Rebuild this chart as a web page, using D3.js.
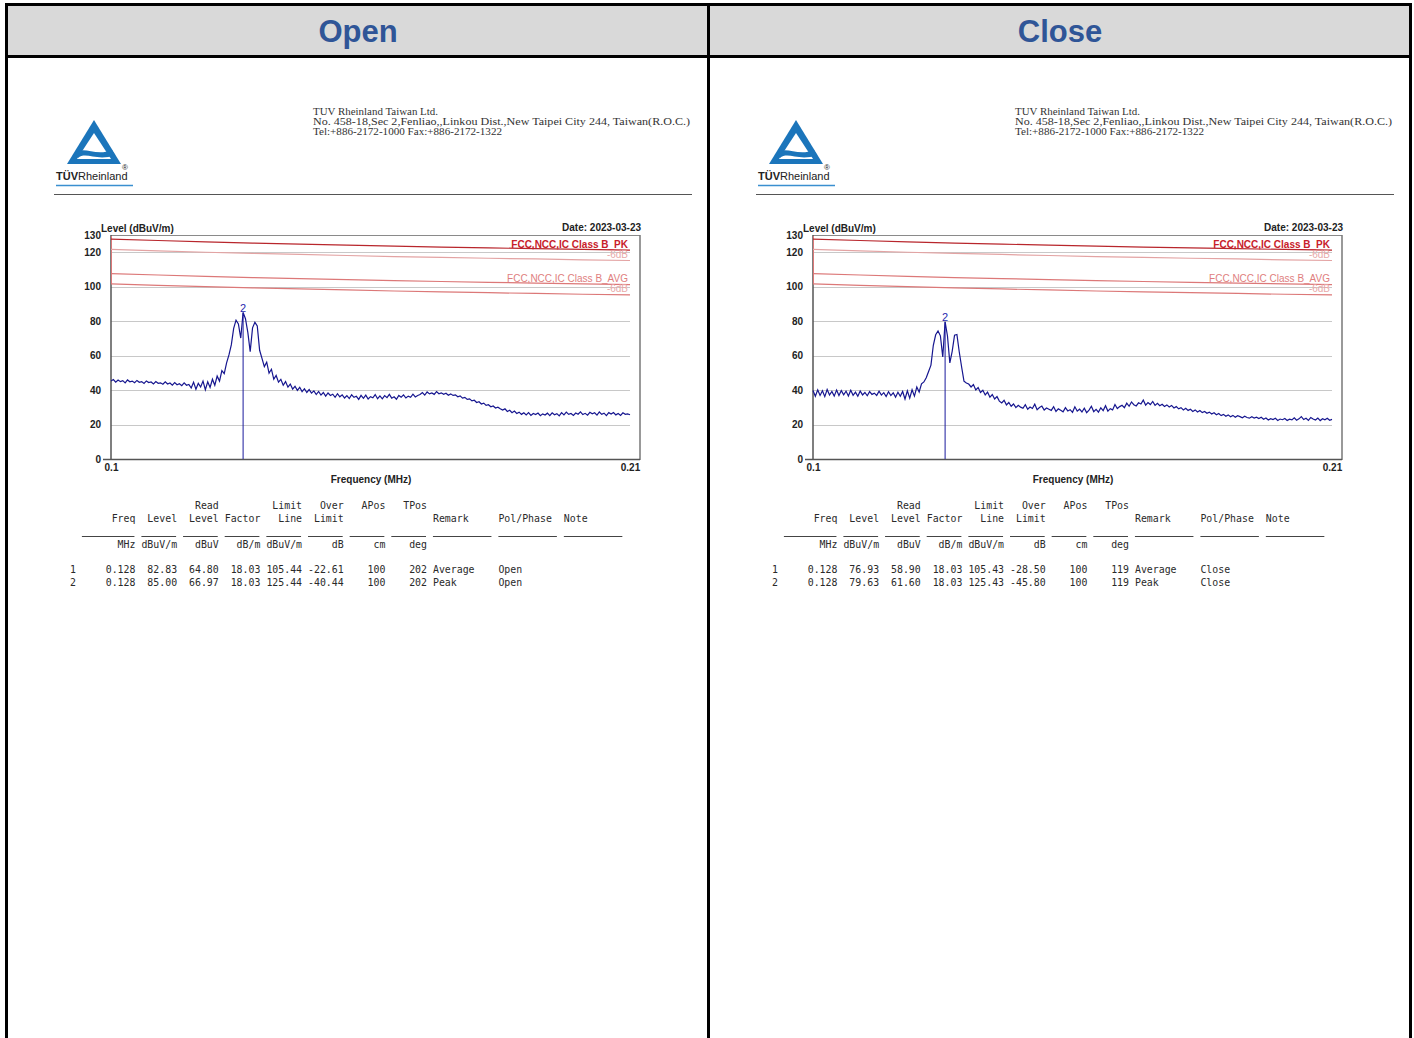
<!DOCTYPE html>
<html>
<head>
<meta charset="utf-8">
<script src="https://cdn.jsdelivr.net/npm/d3@7"></script>
<style>
body { margin: 0; background: #fff; }
svg { display: block; }
</style>
</head>
<body>
<script>
var width = 1414,
    height = 1038;

// sweep of the receiver (MHz)
var sweepStart = 0.1, sweepStop = 0.21;

var openLevel = [
  45.3, 46.1, 44.6, 45.8, 44.9, 45.5, 44.2, 45.9, 44.8, 45.2, 44.3, 45.6, 44.5, 44.9, 43.8, 45.3, 44.4, 44.7, 43.6, 44.9,
  43.9, 44.2, 43.4, 44.8, 43.5, 44.1, 42.9, 44.3, 43.1, 43.7, 42.6, 44.2, 42.8, 43.3,
  41.2, 44.6, 40.5, 43.9, 41.8, 45.2, 40.2, 44.8, 41.5,
  46.3, 42.8, 48.1, 45.2, 51.3,
  49.6, 55.8, 60.4, 66.2,
  75.8, 80.6, 78.4, 70.2, 85.0, 81.4, 73.5, 62.3, 76.1, 79.3, 77.2, 63.1,
  58.4, 53.6, 56.2,
  49.8, 52.1, 46.3, 48.5, 44.6, 46.2, 42.8, 44.9, 41.7,
  43.5, 40.6, 42.2, 39.8, 41.6, 39.1, 40.8, 38.6, 40.3, 38.2, 39.5, 37.4, 39.2, 37.1, 38.6, 36.5, 38.3, 36.9, 37.6, 35.8,
  37.9, 36.1, 37.2, 35.4, 36.8,
  35.1, 37.3, 35.8, 36.4, 34.6, 36.9, 35.2, 37.1, 34.8, 36.2, 35.5, 37.4, 35.0, 36.6, 34.9, 36.8, 35.6, 37.5, 35.3, 36.1,
  34.7, 36.9, 35.9, 37.2, 35.4, 36.5, 35.8, 37.6, 36.0, 36.9,
  37.4, 38.6, 37.1, 38.9, 37.8, 38.3, 37.5, 39.1, 37.9, 38.4, 37.6, 38.2, 37.0, 37.8, 36.9,
  37.2, 36.1, 36.6, 35.3, 35.8, 34.6, 34.9, 33.7, 34.1, 32.8, 33.2, 31.9, 32.4, 31.1, 31.5, 30.3, 30.8, 29.6, 30.1, 29.2,
  28.4, 29.1, 27.6, 28.3, 26.9, 27.8, 26.4, 27.2, 25.9, 26.8, 25.6, 26.9, 25.3, 26.4, 25.8, 26.7, 25.1, 26.2, 25.5, 26.6,
  25.2, 26.8, 25.7, 26.3, 25.0, 26.9, 25.6, 27.2, 25.9, 26.4, 25.3, 26.7, 26.0, 27.4, 25.8, 26.5, 25.4, 27.1, 26.2, 26.8,
  25.5, 27.3, 25.9, 26.6, 25.2, 26.9, 26.1, 27.0, 25.6, 26.4, 25.3, 26.8, 25.9, 26.2, 25.7
];
var closeLevel = [
  39.8, 36.4, 40.1, 36.9, 39.6, 36.2, 40.3, 37.1, 39.2, 36.5, 40.0, 36.8, 39.7, 37.3, 39.4, 36.6, 39.9, 37.0, 38.8, 36.4,
  39.5, 37.2, 38.6, 36.7, 39.1, 37.5, 38.2, 36.9, 39.3, 37.1, 38.5, 36.3, 39.0, 36.8, 38.4, 35.9, 38.7, 36.4,
  39.2, 34.8, 39.6, 35.3,
  40.2, 36.5, 41.8, 38.9, 43.6, 44.7, 47.2, 50.8, 54.5, 66.0, 72.1, 74.3, 71.5, 59.2, 79.6, 71.4, 55.8, 62.5, 71.9, 72.3,
  62.1, 53.4, 45.2, 44.1, 43.5,
  41.8, 43.2, 40.1, 41.5, 38.6, 39.9, 37.2, 38.8, 35.9, 37.4, 34.8, 36.2, 33.6,
  32.5, 34.1, 31.4, 32.8, 30.6, 31.9, 29.8, 31.2, 30.1, 29.4, 31.5, 28.9, 30.2, 29.3, 31.8, 28.6, 29.9, 30.7, 28.4, 29.6, 28.9,
  28.2, 30.4, 27.6, 29.1, 28.3, 27.4, 29.8, 27.9, 28.6, 27.1, 30.3, 27.8, 28.9, 27.3, 29.5, 26.9, 28.4, 30.6, 27.5, 28.8,
  27.2, 29.7, 28.1, 30.9, 27.8, 29.2, 28.5, 31.6, 29.3, 30.4,
  31.2, 29.8, 32.4, 30.6, 33.1, 31.5, 30.8, 32.6, 31.9, 34.2, 31.3, 32.8, 31.6, 33.4, 31.1, 32.3, 30.9, 31.8, 30.5, 31.4,
  30.2, 31.1, 29.6, 30.4, 29.1, 29.8, 28.5, 29.4, 28.2, 28.9, 27.6, 28.5, 27.3, 28.1, 26.9, 27.6, 26.5, 27.2, 26.1, 26.8,
  25.7, 26.4, 25.2, 25.9, 24.8, 25.6, 24.5, 25.3, 24.2, 25.1, 24.6, 23.9, 24.8, 24.1, 23.7, 24.5, 23.8, 24.3, 23.5, 24.2,
  23.1, 23.8, 22.6, 23.4, 22.9, 23.6, 22.4, 23.2, 22.8, 23.5, 22.3, 23.1, 22.7, 23.9, 22.5, 23.3, 24.6, 22.9, 23.6, 22.4,
  24.1, 23.2, 22.6, 23.8, 22.3, 23.4, 22.8, 23.6, 22.5, 23.0
];

// limit lines
var limitFreq = [0.10, 0.11, 0.12, 0.13, 0.14, 0.15, 0.16, 0.17, 0.18, 0.19, 0.20, 0.21];
var limitPK   = [127.6, 126.8, 126.0, 125.3, 124.7, 124.1, 123.5, 123.0, 122.5, 122.1, 121.6, 121.2];
var limitAVG  = [107.6, 106.8, 106.0, 105.3, 104.7, 104.1, 103.5, 103.0, 102.5, 102.1, 101.6, 101.2];
var marginDb = 6;

var yTicks = [0, 20, 40, 60, 80, 100, 120, 130];
var xTicks = [0.1, 0.21];

// result table (text, character column)
var headLine1 = [["Read", 25], ["Limit", 39], ["Over", 46], ["APos", 53], ["TPos", 60]];
var headLine2 = [["Freq", 11], ["Level", 18], ["Level", 25], ["Factor", 32], ["Line", 39], ["Limit", 46]];
var headLeft = [["Remark", 61], ["Pol/Phase", 72], ["Note", 83]];
var unitLine = [["MHz", 11], ["dBuV/m", 18], ["dBuV", 25], ["dB/m", 32], ["dBuV/m", 39], ["dB", 46], ["cm", 53], ["deg", 60]];
var underSegs = [[2, 11], [12, 18], [19, 25], [26, 32], [33, 39], [40, 46], [47, 53], [54, 60], [61, 71], [72, 82], [83, 93]];
var numEnds = [11, 18, 25, 32, 39, 46, 53, 60];

var openRows = [
  ["1", "0.128", "82.83", "64.80", "18.03", "105.44", "-22.61", "100", "202", "Average", "Open"],
  ["2", "0.128", "85.00", "66.97", "18.03", "125.44", "-40.44", "100", "202", "Peak", "Open"]
];
var closeRows = [
  ["1", "0.128", "76.93", "58.90", "18.03", "105.43", "-28.50", "100", "119", "Average", "Close"],
  ["2", "0.128", "79.63", "61.60", "18.03", "125.43", "-45.80", "100", "119", "Peak", "Close"]
];

var addressLines = [
  "TUV Rheinland Taiwan Ltd.",
  "No. 458-18,Sec 2,Fenliao,,Linkou Dist.,New Taipei City 244, Taiwan(R.O.C.)",
  "Tel:+886-2172-1000 Fax:+886-2172-1322"
];
var addressWidths = [125, 377, 189];

var svg = d3.select("body").append("svg").attr("width", width).attr("height", height);

// header band + frame
svg.append("rect").attr("x", 5).attr("y", 4).attr("width", 1406).attr("height", 52).attr("fill", "#d9d9d9");
[["Open", 358], ["Close", 1060]].forEach(function (t) {
  svg.append("text").text(t[0]).attr("x", t[1]).attr("y", 42)
    .attr("text-anchor", "middle")
    .style("font", "bold 31px 'Liberation Sans', Arial, sans-serif")
    .attr("fill", "#2f5597");
});
svg.append("line").attr("x1", 5).attr("x2", 1412).attr("y1", 4.5).attr("y2", 4.5).attr("stroke", "#000").attr("stroke-width", 3);
svg.append("line").attr("x1", 5).attr("x2", 1412).attr("y1", 56.5).attr("y2", 56.5).attr("stroke", "#000").attr("stroke-width", 3);
[6.5, 708.5, 1410.5].forEach(function (xv) {
  svg.append("line").attr("x1", xv).attr("x2", xv).attr("y1", 3).attr("y2", height).attr("stroke", "#000").attr("stroke-width", 3);
});

function drawPanel(ox, level, rows) {
  var g = svg.append("g").attr("transform", "translate(" + ox + ",0)");

  // logo
  var logo = g.append("g");
  logo.append("path").attr("d", "M94,120 L121,164 L67,164 Z").attr("fill", "#1b75bb");
  logo.append("path").attr("d", "M94,133 L111,159 L77,159 Z").attr("fill", "#fff");
  logo.append("path").attr("d", "M75,153 C84,145 95,157 112,150 L115,155 C97,162 86,151 78,158 Z").attr("fill", "#1b75bb");
  var lt = logo.append("text").attr("x", 56).attr("y", 180)
    .style("font", "11px 'Liberation Sans', Arial, sans-serif").attr("fill", "#222");
  lt.append("tspan").text("TÜV").style("font-weight", "bold");
  lt.append("tspan").text("Rheinland");
  logo.append("text").text("®").attr("x", 122).attr("y", 170)
    .style("font", "8px 'Liberation Sans', Arial, sans-serif").attr("fill", "#222");
  logo.append("line").attr("x1", 56).attr("x2", 133).attr("y1", 185.5).attr("y2", 185.5)
    .attr("stroke", "#3a8fd0").attr("stroke-width", 1.5);

  addressLines.forEach(function (s, i) {
    g.append("text").text(s).attr("x", 313).attr("y", 115 + i * 10)
      .attr("textLength", addressWidths[i]).attr("lengthAdjust", "spacingAndGlyphs")
      .style("font", "10px 'Liberation Serif', 'Times New Roman', serif").attr("fill", "#333");
  });
  g.append("line").attr("x1", 54).attr("x2", 692).attr("y1", 194.5).attr("y2", 194.5)
    .attr("stroke", "#555").attr("stroke-width", 1);

  // chart
  var x = d3.scaleLinear().domain([sweepStart, sweepStop]).range([111, 630]);
  var y = d3.scaleLinear().domain([0, 130]).range([459, 235]);
  var step = (sweepStop - sweepStart) / (level.length - 1);

  g.selectAll("line.grid").data(yTicks.filter(function (d) { return d > 0 && d < 130; }))
    .enter().append("line").attr("class", "grid")
    .attr("x1", 111).attr("x2", 630)
    .attr("y1", function (d) { return Math.round(y(d)) + 0.5; })
    .attr("y2", function (d) { return Math.round(y(d)) + 0.5; })
    .attr("stroke", "#c8c8c8").attr("stroke-width", 1);

  // frame
  g.append("line").attr("x1", 111).attr("x2", 640).attr("y1", 235.5).attr("y2", 235.5).attr("stroke", "#8a8a8a");
  g.append("line").attr("x1", 640).attr("x2", 640).attr("y1", 235).attr("y2", 460).attr("stroke", "#777").attr("stroke-width", 1.5);
  g.append("line").attr("x1", 111).attr("x2", 111).attr("y1", 235).attr("y2", 460).attr("stroke", "#555").attr("stroke-width", 1.5);
  g.append("line").attr("x1", 103).attr("x2", 640).attr("y1", 459.5).attr("y2", 459.5).attr("stroke", "#555").attr("stroke-width", 1.5);

  var yAxis = d3.axisLeft(y).tickValues(yTicks).tickSize(0).tickPadding(0);
  g.append("g").attr("transform", "translate(101,0)").call(yAxis)
    .call(function (a) { a.select(".domain").remove(); })
    .selectAll("text").style("font", "bold 10px 'Liberation Sans', Arial, sans-serif").attr("fill", "#222");

  var xAxis = d3.axisBottom(x).tickValues(xTicks).tickSize(0).tickPadding(5).tickFormat(function (d) { return d; });
  g.append("g").attr("transform", "translate(0,459)").call(xAxis)
    .call(function (a) { a.select(".domain").remove(); })
    .selectAll("text").style("font", "bold 10px 'Liberation Sans', Arial, sans-serif").attr("fill", "#222");

  var lbl = "bold 10px 'Liberation Sans', Arial, sans-serif";
  g.append("text").text("Level (dBuV/m)").attr("x", 101).attr("y", 232).style("font", lbl).attr("fill", "#222");
  g.append("text").text("Date: 2023-03-23").attr("x", 641).attr("y", 231).attr("text-anchor", "end").style("font", lbl).attr("fill", "#222");
  g.append("text").text("Frequency (MHz)").attr("x", 371).attr("y", 483).attr("text-anchor", "middle").style("font", lbl).attr("fill", "#222");

  // limit lines
  var limLine = d3.line().x(function (d) { return x(d[0]); }).y(function (d) { return y(d[1]); });
  var limits = [
    { v: limitPK, off: 0, c: "#b8262c" },
    { v: limitPK, off: marginDb, c: "#e3a3a3" },
    { v: limitAVG, off: 0, c: "#dc7878" },
    { v: limitAVG, off: marginDb, c: "#dc7878" }
  ];
  g.append("line").attr("x1", 111.5).attr("x2", 111.5).attr("y1", 236).attr("y2", y(limitAVG[0] - marginDb))
    .attr("stroke", "#dc7878");
  limits.forEach(function (l) {
    g.append("path").datum(limitFreq.map(function (f, i) { return [f, l.v[i] - l.off]; }))
      .attr("d", limLine).attr("fill", "none").attr("stroke", l.c).attr("stroke-width", 1.2);
  });
  g.append("text").text("FCC,NCC,IC Class B_PK").attr("x", 628).attr("y", 248).attr("text-anchor", "end")
    .style("font", "bold 10px 'Liberation Sans', Arial, sans-serif").attr("fill", "#c8202a");
  g.append("text").text("-6dB").attr("x", 628).attr("y", 258).attr("text-anchor", "end")
    .style("font", "10px 'Liberation Sans', Arial, sans-serif").attr("fill", "#e8a8a8");
  g.append("text").text("FCC,NCC,IC Class B_AVG").attr("x", 628).attr("y", 282).attr("text-anchor", "end")
    .style("font", "10px 'Liberation Sans', Arial, sans-serif").attr("fill", "#e07e7e");
  g.append("text").text("-6dB").attr("x", 628).attr("y", 292).attr("text-anchor", "end")
    .style("font", "10px 'Liberation Sans', Arial, sans-serif").attr("fill", "#e8a8a8");

  // trace
  var trace = d3.line().x(function (d, i) { return x(sweepStart + i * step); }).y(function (d) { return y(d); });
  g.append("path").datum(level).attr("d", trace).attr("fill", "none")
    .attr("stroke", "#16168f").attr("stroke-width", 1.2);

  // marker 2 (peak row)
  var pk = rows[1];
  var mf = +pk[1], ml = +pk[2];
  g.append("line").attr("x1", x(mf)).attr("x2", x(mf)).attr("y1", y(ml)).attr("y2", 459)
    .attr("stroke", "#1a1a9c").attr("stroke-width", 1);
  g.append("text").text(pk[0]).attr("x", x(mf)).attr("y", y(ml) - 1).attr("text-anchor", "middle")
    .style("font", "11px 'Liberation Sans', Arial, sans-serif").attr("fill", "#2828b0");

  // table
  var cx = function (i) { return 70 + i * 5.95; };
  var mono = "9.9px 'DejaVu Sans Mono', monospace";
  function rightText(list, yy) {
    list.forEach(function (c) {
      g.append("text").text(c[0]).attr("x", cx(c[1])).attr("y", yy).attr("text-anchor", "end")
        .style("font", mono).attr("fill", "#2a2a2a");
    });
  }
  rightText(headLine1, 509);
  rightText(headLine2, 522);
  headLeft.forEach(function (c) {
    g.append("text").text(c[0]).attr("x", cx(c[1])).attr("y", 522).style("font", mono).attr("fill", "#2a2a2a");
  });
  underSegs.forEach(function (s) {
    g.append("line").attr("x1", cx(s[0])).attr("x2", cx(s[1]) - 1).attr("y1", 536.5).attr("y2", 536.5)
      .attr("stroke", "#444").attr("stroke-width", 1);
  });
  rightText(unitLine, 548);
  rows.forEach(function (r, k) {
    var yy = 573 + k * 12.5;
    g.append("text").text(r[0]).attr("x", cx(0)).attr("y", yy).style("font", mono).attr("fill", "#2a2a2a");
    numEnds.forEach(function (e, j) {
      g.append("text").text(r[j + 1]).attr("x", cx(e)).attr("y", yy).attr("text-anchor", "end")
        .style("font", mono).attr("fill", "#2a2a2a");
    });
    g.append("text").text(r[9]).attr("x", cx(61)).attr("y", yy).style("font", mono).attr("fill", "#2a2a2a");
    g.append("text").text(r[10]).attr("x", cx(72)).attr("y", yy).style("font", mono).attr("fill", "#2a2a2a");
  });
}

drawPanel(0, openLevel, openRows);
drawPanel(702, closeLevel, closeRows);
</script>
</body>
</html>
